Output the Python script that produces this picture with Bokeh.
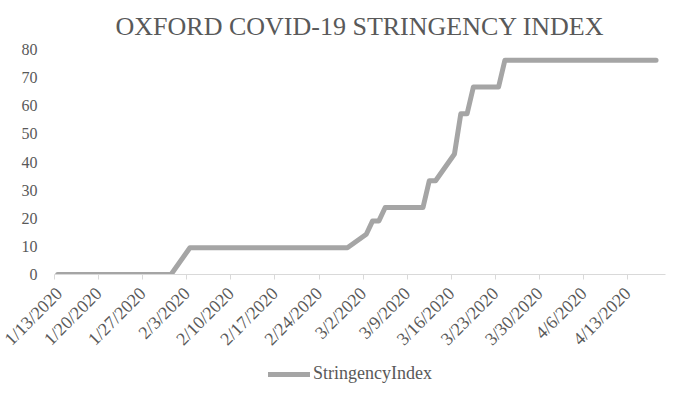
import pandas as pd
from math import pi
from bokeh.plotting import figure
from bokeh.layouts import column
from bokeh.models import Range1d, FixedTicker, Legend, LegendItem, ColumnDataSource
from bokeh.embed import file_html
from bokeh.resources import INLINE

# ---- data ----
start_date = "1/13/2020"
end_date = "4/19/2020"
dates = ["1/13/2020", "1/31/2020", "2/3/2020", "2/28/2020", "3/2/2020", "3/3/2020",
         "3/4/2020", "3/5/2020", "3/11/2020", "3/12/2020", "3/13/2020", "3/16/2020",
         "3/17/2020", "3/18/2020", "3/19/2020", "3/23/2020", "3/24/2020", "4/17/2020"]
stringency = [0, 0, 9.52, 9.52, 14.29, 19.05,
              19.05, 23.81, 23.81, 33.33, 33.33, 42.86,
              57.14, 57.14, 66.67, 66.67, 76.19, 76.19]
tick_labels = ["1/13/2020", "1/20/2020", "1/27/2020", "2/3/2020", "2/10/2020", "2/17/2020",
               "2/24/2020", "3/2/2020", "3/9/2020", "3/16/2020", "3/23/2020", "3/30/2020",
               "4/6/2020", "4/13/2020"]
y_ticks = [0, 10, 20, 30, 40, 50, 60, 70, 80]
series_name = "StringencyIndex"
title_text = "OXFORD COVID-19 STRINGENCY INDEX"

# ---- positions on a day axis (each date sits in the middle of its day) ----
fmt = "%m/%d/%Y"
t0 = pd.to_datetime(start_date, format=fmt)
day_x = [(pd.to_datetime(d, format=fmt) - t0).days + 0.5 for d in dates]
tick_pos = [(pd.to_datetime(t, format=fmt) - t0).days for t in tick_labels]
x_end = (pd.to_datetime(end_date, format=fmt) - t0).days

src = ColumnDataSource(dict(x=day_x, y=stringency))

TEXT = "#595959"
FONT = "Liberation Serif"
LINE = "#a5a5a5"

fig = figure(width=667, height=359, output_backend="svg", toolbar_location=None,
             x_range=Range1d(0, x_end), y_range=Range1d(0, 80),
             min_border_left=54, min_border_right=2, min_border_top=49, min_border_bottom=82)
fig.outline_line_color = None
fig.background_fill_color = "white"
fig.border_fill_color = "white"
fig.xgrid.visible = False
fig.ygrid.visible = False

fig.title.text = title_text
fig.title.align = "center"
fig.title.text_font = FONT
fig.title.text_font_size = "26px"
fig.title.text_font_style = "normal"
fig.title.text_color = TEXT
fig.title.standoff = 18

r = fig.line("x", "y", source=src, line_color=LINE, line_width=5,
             line_join="round", line_cap="round")

# y axis
fig.yaxis.ticker = FixedTicker(ticks=y_ticks)
fig.yaxis.axis_line_color = None
fig.yaxis.major_tick_line_color = None
fig.yaxis.minor_tick_line_color = None
fig.yaxis.major_label_text_font = FONT
fig.yaxis.major_label_text_font_size = "16px"
fig.yaxis.major_label_text_color = TEXT
fig.yaxis.major_label_standoff = 11

# x axis
fig.xaxis.ticker = FixedTicker(ticks=tick_pos)
fig.xaxis.major_label_overrides = {tp: lab for tp, lab in zip(tick_pos, tick_labels)}
fig.xaxis.axis_line_color = "#d9d9d9"
fig.xaxis.axis_line_width = 1
fig.xaxis.major_tick_line_color = "#d9d9d9"
fig.xaxis.major_tick_in = 0
fig.xaxis.major_tick_out = 5
fig.xaxis.minor_tick_line_color = None
fig.xaxis.major_label_orientation = pi / 4
fig.xaxis.major_label_text_font = FONT
fig.xaxis.major_label_text_font_size = "18px"
fig.xaxis.major_label_text_color = TEXT
fig.xaxis.major_label_standoff = 11

# ---- legend strip below the chart ----
leg = figure(width=667, height=26, output_backend="svg", toolbar_location=None,
             x_range=Range1d(0, 1), y_range=Range1d(0, 1),
             x_axis_location=None, y_axis_location=None,
             min_border_left=0, min_border_right=0, min_border_top=0, min_border_bottom=0)
leg.outline_line_color = None
leg.background_fill_color = "white"
leg.border_fill_color = "white"
leg.grid.visible = False
nan = float("nan")
r_leg = leg.line(x=[nan], y=[nan], line_color=LINE, line_width=5, line_cap="round")

legend = Legend(items=[LegendItem(label=series_name, renderers=[r_leg])],
                orientation="horizontal", location=(214, 1),
                border_line_color=None, background_fill_alpha=0,
                label_text_font=FONT, label_text_font_size="18px",
                label_text_color=TEXT, glyph_width=42, label_standoff=3,
                padding=2, margin=0)
leg.add_layout(legend, "center")

p = column(fig, leg, spacing=0)

open("out.html", "w").write(file_html(p, INLINE))
